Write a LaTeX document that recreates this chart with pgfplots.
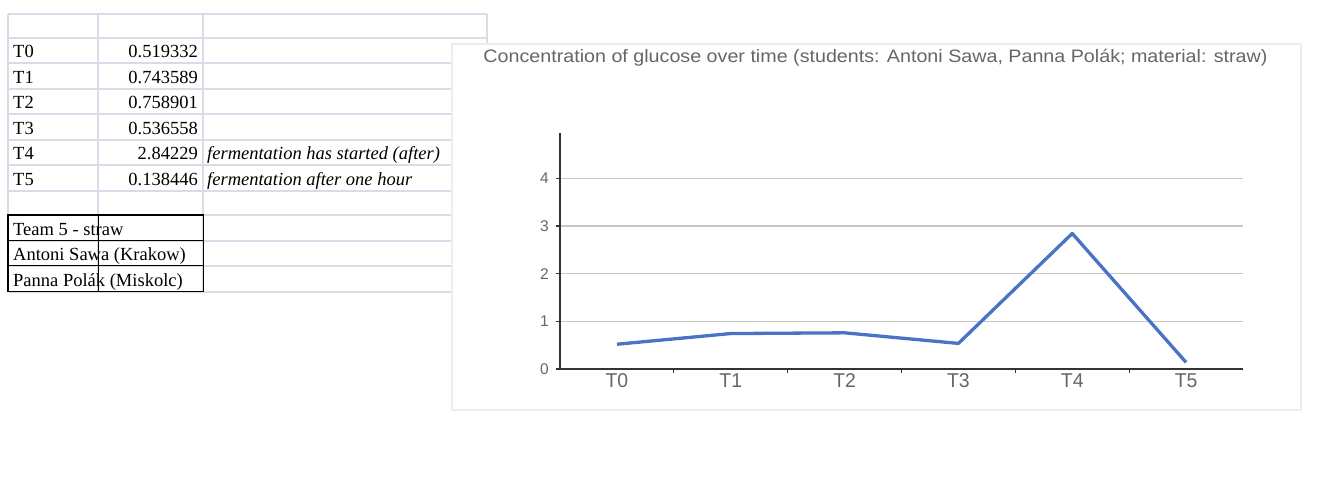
\documentclass[border=0pt]{standalone}
\usepackage{fontspec}
\setmainfont{Liberation Serif}
\newfontfamily\arial{Liberation Sans}
\usepackage{pgfplots}
\pgfplotsset{compat=1.18}
\definecolor{gridlav}{HTML}{DADAE8}
\definecolor{lineblue}{HTML}{4A72C6}
\definecolor{labgray}{HTML}{666666}
\definecolor{panelgray}{HTML}{EDEDED}

\begin{document}
\begin{tikzpicture}[x=1pt,y=-1pt]
% spreadsheet grid
\foreach \y in {14.3,38.3,63.3,89,114.5,140,165.3,190.7,215,240.7,265.7,291.7}
  \draw[gridlav,line width=2pt] (8,\y) -- (487,\y);
\foreach \x in {8,98.3,203.3,487}
  \draw[gridlav,line width=2pt] (\x,14.3) -- (\x,291.7);
% cell text
\tikzset{cell/.style={inner sep=0pt,font=\fontsize{18.5}{20}\selectfont}}
\foreach \lab/\val/\yb in {T0/0.519332/57.8,T1/0.743589/83.3,T2/0.758901/108.8,T3/0.536558/134.3,T4/2.84229/159.8,T5/0.138446/185.3}{
  \node[cell,anchor=base west] at (13,\yb) {\lab};
  \node[cell,anchor=base east] at (198,\yb) {\val};
}
\node[cell,anchor=base west] at (207,159.8) {\itshape fermentation has started (after)};
\node[cell,anchor=base west] at (207,185.3) {\itshape fermentation after one hour};
\node[cell,anchor=base west] at (13,235.3) {Team 5 - straw};
\node[cell,anchor=base west] at (13,260.8) {Antoni Sawa (Krakow)};
\node[cell,anchor=base west] at (13,286.3) {Panna Polák (Miskolc)};
\draw[black,line width=1.6pt] (8,215) rectangle (203.3,291.7);
\draw[black,line width=1.6pt] (8,240.7) -- (203.3,240.7) (8,265.7) -- (203.3,265.7) (98.3,215) -- (98.3,291.7);
% chart panel
\draw[panelgray,fill=white,line width=1.5pt] (452,44) rectangle (1301,410);
\node[anchor=base,inner sep=0pt,text=labgray,xscale=1.094,font=\arial\fontsize{18}{18}\selectfont] at (875.5,62.5)
  {Concentration of glucose over time (students: Antoni Sawa, Panna Polák; material: straw)};
\begin{axis}[
  at={(560pt,-369pt)},anchor=south west,scale only axis,
  width=683pt,height=236pt,
  xmin=-0.5,xmax=5.5,ymin=0,ymax=4.95,
  axis lines*=left,
  axis line style={black!80,line width=1.6pt},
  xtick={0,1,2,3,4,5},xticklabels={T0,T1,T2,T3,T4,T5},
  minor xtick={0.5,1.5,2.5,3.5,4.5},
  ytick={0,1,2,3,4},
  tick align=outside,
  major tick length=4pt,minor tick length=4pt,
  major x tick style={draw=none},
  minor x tick style={black!80,line width=1pt},
  major y tick style={black!80,line width=1.2pt},
  ymajorgrids,grid style={black!22,line width=1.3pt},
  /pgf/number format/assume math mode=true,
  xticklabel style={font=\arial\fontsize{20}{20}\selectfont,text=labgray,inner sep=0pt,
    text height=14.4pt,text depth=0pt,xscale=0.97},
  yticklabel style={font=\arial\fontsize{15.5}{16}\selectfont,text=labgray,inner sep=0pt,xshift=-7pt},
  clip=false]
\addplot[lineblue,line width=3.3pt,line join=round,mark=none] coordinates {
  (0,0.519332)
  (1,0.743589)
  (2,0.758901)
  (3,0.536558)
  (4,2.84229)
  (5,0.138446)
};
\end{axis}
\pgfresetboundingbox
\path[use as bounding box] (0,0) rectangle (1333,486);
\end{tikzpicture}
\end{document}
